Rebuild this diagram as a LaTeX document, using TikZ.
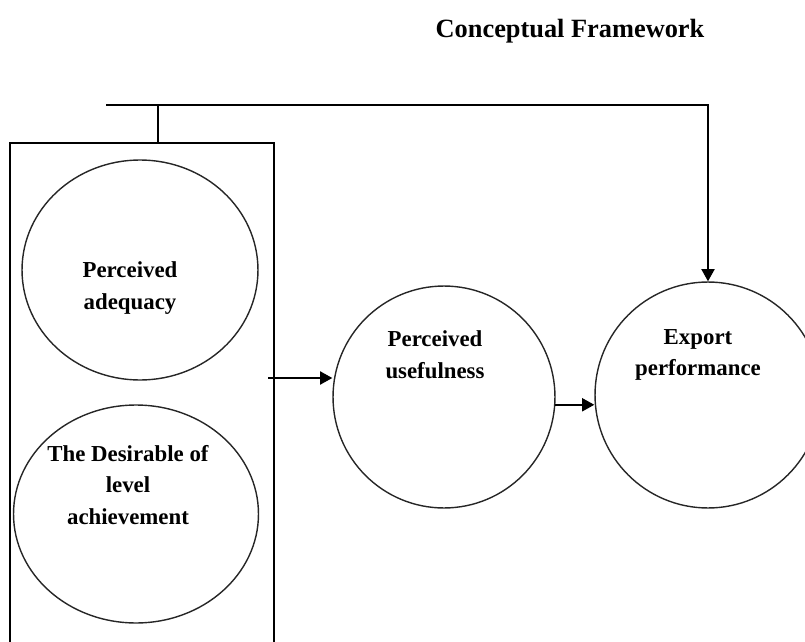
\documentclass[tikz,border=0pt]{standalone}
\usepackage{fontspec}
\setmainfont{Liberation Serif}
\usetikzlibrary{shapes.geometric,arrows.meta}
\tikzset{
  blob/.style={draw=black!85, line width=0.8pt, ellipse, inner sep=0pt},
  lbl/.style={font=\fontsize{13}{18}\selectfont\bfseries, align=center},
  arr/.style={line width=1pt, -{Triangle[length=7pt,width=7.5pt]}},
}
\begin{document}
\begin{tikzpicture}[x=0.02cm, y=-0.02cm]
  \useasboundingbox (0,0) rectangle (805,642);
  \clip (0,0) rectangle (805,642);
  \node[font=\fontsize{15}{18}\selectfont\bfseries] (ttl) at (570,31) {Conceptual Framework};
  % left group box, runs off the page
  \node[draw, line width=1pt, minimum width=5.28cm, minimum height=10.6cm, inner sep=0pt, anchor=north] (grp) at (142,142) {};
  \node[blob, minimum width=4.72cm, minimum height=4.4cm] (adeq) at (140,270) {};
  \node[blob, minimum width=4.9cm, minimum height=4.36cm] (desire) at (136,514) {};
  \node[blob, minimum size=4.44cm] (useful) at (444,397) {};
  \node[blob, minimum size=4.52cm] (export) at (708,395) {};
  \node[lbl] (adeqtxt) at (130,288) {Perceived\\adequacy};
  \node[lbl] (desiretxt) at (128,485) {The Desirable of\\level\\achievement};
  \node[lbl] (usefultxt) at (435,355) {Perceived\\usefulness};
  \node[lbl] (exporttxt) at (698,355) {Export\\performance};
  % connectors
  \coordinate (barL) at (106,105);
  \coordinate (bar) at (158,105);
  \coordinate (out) at (268,378);
  \draw[line width=1pt] (bar) -- (bar |- grp.north);
  \draw[arr] (barL) -| (export.north);
  \draw[arr] (out) -- (useful.west |- out);
  \draw[arr] (useful.-4) -- (useful.-4 -| export.west);
\end{tikzpicture}
\end{document}
